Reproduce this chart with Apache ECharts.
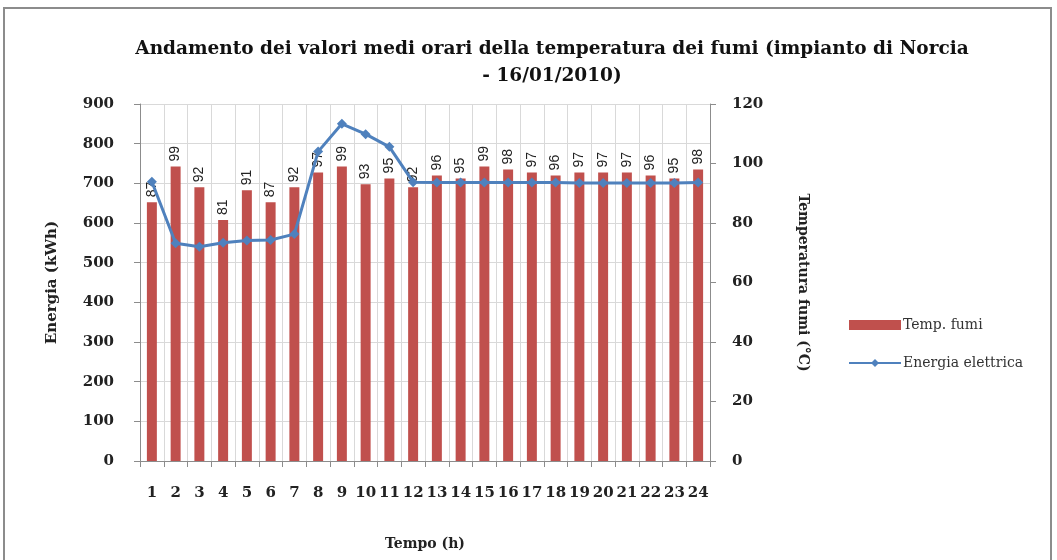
<!DOCTYPE html>
<html>
<head>
<meta charset="utf-8">
<script src="https://cdn.jsdelivr.net/npm/echarts@6/dist/echarts.min.js"></script>
<style>
  html, body { margin: 0; padding: 0; background: #ffffff; }
  #chart { width: 1057px; height: 560px; }
</style>
</head>
<body>
<div id="chart"></div>
<script>
// Hours of the day
const hours = ['1','2','3','4','5','6','7','8','9','10','11','12','13','14','15','16','17','18','19','20','21','22','23','24'];
// Mean hourly flue gas temperature (°C)
const tempFumi = [87, 99, 92, 81, 91, 87, 92, 97, 99, 93, 95, 92, 96, 95, 99, 98, 97, 96, 97, 97, 97, 96, 95, 98];
// Electric energy produced (kWh)
const energiaElettrica = [704, 549, 540, 550, 556, 557, 572, 780, 850, 824, 792, 703, 702, 702, 702, 702, 702, 702, 701, 701, 701, 701, 701, 702];

const titleText = 'Andamento dei valori medi orari della temperatura dei fumi (impianto di Norcia\n- 16/01/2010)';

const serif = 'DejaVu Serif';
const chart = echarts.init(document.getElementById('chart'));

chart.setOption({
  animation: false,
  backgroundColor: '#ffffff',
  graphic: [{
    type: 'rect',
    shape: { x: 4, y: 8, width: 1047, height: 560 },
    style: { fill: 'none', stroke: '#8c8c8c', lineWidth: 2 },
    silent: true
  }],
  title: {
    text: titleText,
    left: 547,
    top: 31,
    textAlign: 'center',
    textStyle: {
      fontFamily: serif, fontWeight: 'bold', fontSize: 18.5,
      color: '#111', lineHeight: 27
    }
  },
  legend: {
    orient: 'vertical',
    left: 843,
    top: 313,
    itemWidth: 52,
    itemHeight: 10,
    itemGap: 24,
    textStyle: { fontFamily: serif, fontSize: 14, color: '#333', padding: [0, 0, 0, -3] },
    data: [{ name: 'Temp. fumi', icon: 'rect' }, { name: 'Energia elettrica' }]
  },
  grid: { left: 140, right: 347, top: 104, bottom: 99 },
  xAxis: {
    type: 'category',
    data: hours,
    name: 'Tempo (h)',
    nameLocation: 'middle',
    nameGap: 76,
    nameTextStyle: { fontFamily: serif, fontWeight: 'bold', fontSize: 14, color: '#222' },
    axisLine: { lineStyle: { color: '#8c8c8c', width: 1 } },
    axisTick: { show: true, alignWithLabel: false, length: 6, lineStyle: { color: '#8c8c8c' } },
    axisLabel: { fontFamily: serif, fontWeight: 'bold', fontSize: 15, color: '#222', margin: 25, interval: 0 },
    splitLine: { show: true, lineStyle: { color: '#d9d9d9', width: 1 } }
  },
  yAxis: [{
    type: 'value',
    min: 0, max: 900, interval: 100,
    position: 'left',
    name: 'Energia (kWh)',
    nameLocation: 'middle',
    nameGap: 80,
    nameTextStyle: { fontFamily: serif, fontWeight: 'bold', fontSize: 15, color: '#222' },
    axisLine: { show: true, lineStyle: { color: '#8c8c8c' } },
    axisTick: { show: true, length: 6, lineStyle: { color: '#8c8c8c' } },
    axisLabel: { fontFamily: serif, fontWeight: 'bold', fontSize: 15, color: '#222', margin: 26 },
    splitLine: { show: true, lineStyle: { color: '#d9d9d9', width: 1 } }
  }, {
    type: 'value',
    min: 0, max: 120, interval: 20,
    position: 'right',
    name: 'Temperatura fumi (°C)',
    nameLocation: 'middle',
    nameGap: 86,
    nameRotate: -90,
    nameTextStyle: { fontFamily: serif, fontWeight: 'bold', fontSize: 14, color: '#222' },
    axisLine: { show: true, lineStyle: { color: '#8c8c8c' } },
    axisTick: { show: true, length: 6, lineStyle: { color: '#8c8c8c' } },
    axisLabel: { fontFamily: serif, fontWeight: 'bold', fontSize: 15, color: '#222', margin: 22 },
    splitLine: { show: false }
  }],
  series: [{
    name: 'Temp. fumi',
    type: 'bar',
    yAxisIndex: 1,
    data: tempFumi,
    barWidth: '42%',
    itemStyle: { color: '#c0504d' },
    label: {
      show: true,
      position: 'top',
      rotate: 90,
      align: 'left',
      verticalAlign: 'middle',
      distance: 5,
      fontFamily: 'Liberation Sans',
      fontSize: 14,
      color: '#222'
    }
  }, {
    name: 'Energia elettrica',
    type: 'line',
    yAxisIndex: 0,
    data: energiaElettrica,
    symbol: 'diamond',
    symbolSize: 10,
    lineStyle: { color: '#4f81bd', width: 3 },
    itemStyle: { color: '#4f81bd' },
    z: 5
  }]
});
</script>
</body>
</html>
